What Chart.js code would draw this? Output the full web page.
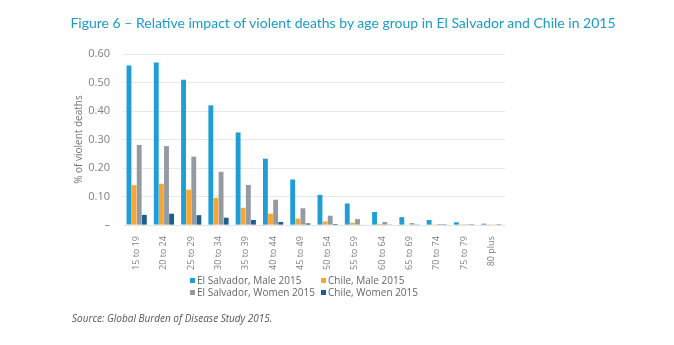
<!DOCTYPE html>
<html>
<head>
<meta charset="utf-8">
<script src="https://cdn.jsdelivr.net/npm/chart.js@4.4.0/dist/chart.umd.min.js"></script>
<style>
  body { margin: 0; background: #fff; font-family: "Open Sans", sans-serif; }
  #wrap { position: relative; width: 674px; height: 345px; }
  #title { position: absolute; left: 0; width: 674px; top: 14px; text-align: center;
           color: #1a9bc9; font-size: 14px; font-family: Lato, sans-serif; padding-left: 12px; box-sizing: border-box; }
  #legend { position: absolute; left: 190px; top: 275px; font-size: 10px; color: #666; white-space: nowrap; }
  .row { display: flex; height: 11.5px; line-height: 11.5px; }
  .item { display: flex; align-items: center; }
  .item:first-child { width: 131px; }
  .box { width: 5px; height: 5px; margin-right: 2px; }
  #source { position: absolute; left: 72px; top: 311px; font-size: 10px; font-style: italic; color: #555; }
</style>
</head>
<body>
<div id="wrap">
  <canvas id="chart" width="674" height="345"></canvas>
  <div id="title">Figure 6 – Relative impact of violent deaths by age group in El Salvador and Chile in 2015</div>
  <div id="legend"></div>
  <div id="source">Source: Global Burden of Disease Study 2015.</div>
</div>
<script>
// age groups and series (share of deaths that are violent)
const ageGroups = ['15 to 19', '20 to 24', '25 to 29', '30 to 34', '35 to 39', '40 to 44', '45 to 49',
  '50 to 54', '55 to 59', '60 to 64', '65 to 69', '70 to 74', '75 to 79', '80 plus'];
const salvadorMale = [0.56, 0.57, 0.51, 0.42, 0.325, 0.233, 0.16, 0.106, 0.076, 0.046, 0.028, 0.018, 0.01, 0.005];
const chileMale = [0.14, 0.145, 0.124, 0.095, 0.061, 0.04, 0.023, 0.013, 0.008, 0.004, 0.002, 0.001, 0.0005, 0.0003];
const salvadorWomen = [0.281, 0.277, 0.24, 0.187, 0.141, 0.089, 0.059, 0.033, 0.021, 0.011, 0.007, 0.004, 0.003, 0.001];
const chileWomen = [0.036, 0.04, 0.035, 0.026, 0.018, 0.011, 0.006, 0.004, 0.002, 0.001, 0.001, 0.0005, 0.0003, 0.0002];
const yTicks = [0, 0.1, 0.2, 0.3, 0.4, 0.5, 0.6];

const series = [
  { label: 'El Salvador, Male 2015', data: salvadorMale, color: '#1e9ed4' },
  { label: 'Chile, Male 2015', data: chileMale, color: '#f8a533' },
  { label: 'El Salvador, Women 2015', data: salvadorWomen, color: '#939aa1' },
  { label: 'Chile, Women 2015', data: chileWomen, color: '#1b5e92' }
];

const chart = new Chart(document.getElementById('chart'), {
  type: 'bar',
  data: {
    labels: ageGroups,
    datasets: series.map(s => ({
      label: s.label,
      data: s.data,
      backgroundColor: s.color,
      barPercentage: 0.95,
      categoryPercentage: 0.75
    }))
  },
  options: {
    responsive: false,
    animation: false,
    layout: { autoPadding: false, padding: { left: 72, right: 169, top: 54, bottom: 72 } },
    plugins: {
      legend: { display: false },
      tooltip: { enabled: false }
    },
    scales: {
      x: {
        grid: { display: false },
        border: { color: '#e4e4e4' },
        ticks: { color: '#808080', font: { family: 'Open Sans', size: 9 }, maxRotation: 90, minRotation: 90, padding: 3 }
      },
      y: {
        min: 0,
        max: 0.6,
        afterBuildTicks: axis => { axis.ticks = yTicks.map(v => ({ value: v })); },
        afterFit: axis => { axis.width = 51; }, // measured width came out too wide
        grid: { color: '#e8e8e8', drawTicks: false },
        border: { display: false },
        ticks: {
          color: '#808080',
          font: { family: 'Open Sans', size: 11 },
          padding: 13,
          callback: v => v === 0 ? '–' : v.toFixed(2)
        },
        title: { display: true, text: '% of violent deaths', color: '#777', font: { family: 'Open Sans', size: 10 }, padding: 1 }
      }
    }
  }
});

// two-column legend built from the chart's datasets
const legend = document.getElementById('legend');
[[0, 1], [2, 3]].forEach(pair => {
  const row = document.createElement('div');
  row.className = 'row';
  pair.forEach(i => {
    const ds = chart.data.datasets[i];
    const item = document.createElement('div');
    item.className = 'item';
    item.innerHTML = '<span class="box" style="background:' + ds.backgroundColor + '"></span>' + ds.label;
    row.appendChild(item);
  });
  legend.appendChild(row);
});
</script>
</body>
</html>
